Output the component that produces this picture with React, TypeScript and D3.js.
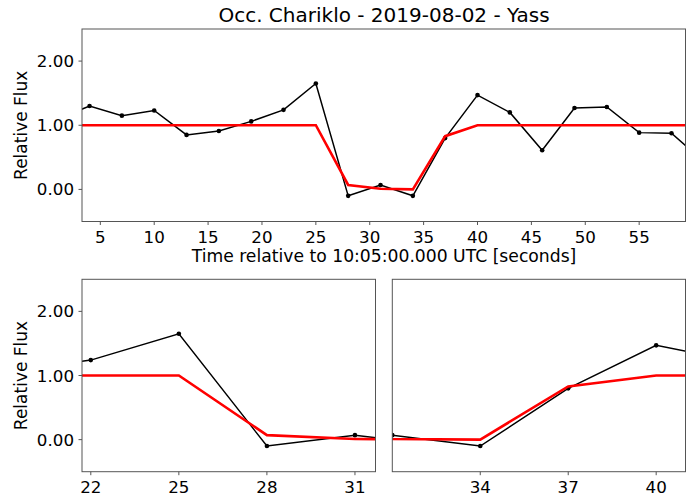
import React from "react";
import * as d3 from "d3";

const times = [1, 4, 7, 10, 13, 16, 19, 22, 25, 28, 31, 34, 37, 40, 43, 46, 49, 52, 55, 58, 61];
const observedFlux = [1.09, 1.3, 1.15, 1.23, 0.85, 0.91, 1.06, 1.24, 1.65, -0.1, 0.07, -0.1, 0.8, 1.47, 1.2, 0.61, 1.27, 1.285, 0.885, 0.875, 0.43];
const modelFlux = [1, 1, 1, 1, 1, 1, 1, 1, 1, 0.07, 0.01, 0, 0.83, 1, 1, 1, 1, 1, 1, 1, 1];
const yTicks = [0, 1, 2];
const topXTicks = [5, 10, 15, 20, 25, 30, 35, 40, 45, 50, 55];
const leftXTicks = [22, 25, 28, 31];
const rightXTicks = [34, 37, 40];

const title = "Occ. Chariklo - 2019-08-02 - Yass";
const xLabel = "Time relative to 10:05:00.000 UTC [seconds]";
const yLabel = "Relative Flux";

const FONT = "'DejaVu Sans', sans-serif";
const SPINE = "#555";

type PanelProps = {
  id: string;
  x0: number; x1: number; y0: number; y1: number;
  xDomain: [number, number];
  xTicks: number[];
  showY: boolean;
};

function Panel({ id, x0, x1, y0, y1, xDomain, xTicks, showY }: PanelProps) {
  const x = d3.scaleLinear().domain(xDomain).range([x0, x1]);
  const y = d3.scaleLinear().domain([-0.5, 2.5]).range([y1, y0]);
  const pts = times.map((t, i) => ({ t, obs: observedFlux[i], mod: modelFlux[i] }));
  const obsLine = d3.line<any>().x(d => x(d.t)).y(d => y(d.obs));
  const modLine = d3.line<any>().x(d => x(d.t)).y(d => y(d.mod));
  return (
    <g>
      <defs>
        <clipPath id={id}>
          <rect x={x0} y={y0} width={x1 - x0} height={y1 - y0} />
        </clipPath>
      </defs>
      <g clipPath={`url(#${id})`}>
        <path d={obsLine(pts) || ""} fill="none" stroke="#000" strokeWidth={1.5} />
        {pts.map((p, i) => (
          <circle key={i} cx={x(p.t)} cy={y(p.obs)} r={2.3} fill="#000" />
        ))}
        <path d={modLine(pts) || ""} fill="none" stroke="#ff0000" strokeWidth={2.6} />
      </g>
      <rect x={x0} y={y0} width={x1 - x0} height={y1 - y0} fill="none" stroke={SPINE} strokeWidth={1} />
      {xTicks.map(t => (
        <g key={t}>
          <line x1={x(t)} x2={x(t)} y1={y1} y2={y1 + 3.5} stroke={SPINE} strokeWidth={1} />
          <text x={x(t)} y={y1 + 21} textAnchor="middle" fontSize={16.7} fontFamily={FONT} fill="#000">{t}</text>
        </g>
      ))}
      {showY && yTicks.map(v => (
        <g key={v}>
          <line x1={x0 - 3.5} x2={x0} y1={y(v)} y2={y(v)} stroke={SPINE} strokeWidth={1} />
          <text x={x0 - 8} y={y(v) + 6} textAnchor="end" fontSize={16.7} fontFamily={FONT} fill="#000">{v.toFixed(2)}</text>
        </g>
      ))}
      {showY && (
        <text transform={`translate(27,${(y0 + y1) / 2}) rotate(-90)`} textAnchor="middle" fontSize={17} fontFamily={FONT} fill="#000">{yLabel}</text>
      )}
    </g>
  );
}

export default function App() {
  return (
    <svg width={700} height={503} style={{ display: "block", position: "absolute", left: 0, top: 0 }}>
      <rect width={700} height={503} fill="#fff" />
      <text x={384} y={22} textAnchor="middle" fontSize={20} fontFamily={FONT} fill="#000">{title}</text>
      <Panel id="c-top" x0={82} x1={685.5} y0={29} y1={221.5} xDomain={[3.3, 59.3]} xTicks={topXTicks} showY={true} />
      <text x={384} y={262} textAnchor="middle" fontSize={17.2} fontFamily={FONT} fill="#000">{xLabel}</text>
      <Panel id="c-bl" x0={82} x1={375.5} y0={279.3} y1={471.7} xDomain={[21.7, 31.7]} xTicks={leftXTicks} showY={true} />
      <Panel id="c-br" x0={392.3} x1={685.5} y0={279.3} y1={471.7} xDomain={[31, 41]} xTicks={rightXTicks} showY={false} />
    </svg>
  );
}
